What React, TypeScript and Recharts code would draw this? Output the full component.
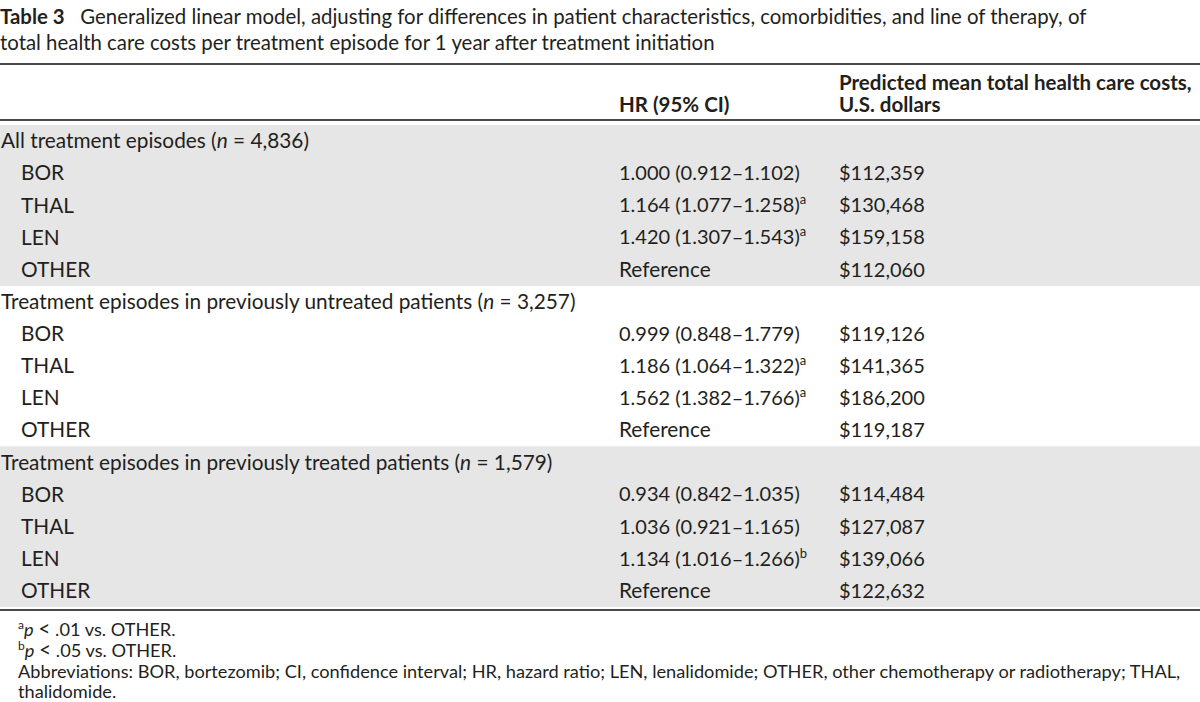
import React from 'react'
import { BarChart, Bar, XAxis, YAxis, Cell } from 'recharts'

// table content
const groupLabels = [
  'All treatment episodes',
  'Treatment episodes in previously untreated patients',
  'Treatment episodes in previously treated patients',
]
const groupN = ['4,836', '3,257', '1,579']
const shadedGroups = [true, false, true]
const drugs = ['BOR', 'THAL', 'LEN', 'OTHER']

const hrEstimate = [
  [1.0, 1.164, 1.42, null],
  [0.999, 1.186, 1.562, null],
  [0.934, 1.036, 1.134, null],
]
const hrLower = [
  [0.912, 1.077, 1.307, null],
  [0.848, 1.064, 1.382, null],
  [0.842, 0.921, 1.016, null],
]
const hrUpper = [
  [1.102, 1.258, 1.543, null],
  [1.779, 1.322, 1.766, null],
  [1.035, 1.165, 1.266, null],
]
const hrMark = [
  ['', 'a', 'a', ''],
  ['', 'a', 'a', ''],
  ['', '', 'b', ''],
]
const meanCost = [
  [112359, 130468, 159158, 112060],
  [119126, 141365, 186200, 119187],
  [114484, 127087, 139066, 122632],
]

const FONT = 'Lato, "Open Sans", sans-serif'
const INK = '#231f20'
const SHADE = '#e6e6e6'
const RULE = '#4a4a4a'
const LABEL_SIZE = 20.8
const NUM_SIZE = 20

const COL_LABEL = 1
const COL_ITEM = 21
const COL_HR = 619
const COL_COST = 839

type Row = {
  key: string
  group: number
  drug: number | null
  span: number
}

const rows: Row[] = []
groupLabels.forEach((_, g) => {
  rows.push({ key: `g${g}`, group: g, drug: null, span: 1 })
  drugs.forEach((_, d) => rows.push({ key: `g${g}-${d}`, group: g, drug: d, span: 1 }))
})

const fmtCost = (v: number) => '$' + v.toLocaleString('en-US')

// one table row: band background plus the three text cells
function RowShape(props: any) {
  const { x, y, width, height, payload, fill } = props
  const row: Row = payload
  const g = row.group
  const cy = y + height / 2
  const base = { y: cy, dy: '0.35em', fill: INK, fontFamily: FONT }
  let cells
  if (row.drug === null) {
    cells = (
      <text {...base} fontSize={LABEL_SIZE} x={COL_LABEL} textAnchor="start">
        {groupLabels[g]} (<tspan fontStyle="italic">n</tspan> = {groupN[g]})
      </text>
    )
  } else {
    const d = row.drug
    const est = hrEstimate[g][d]
    cells = (
      <g>
        <text {...base} fontSize={LABEL_SIZE} x={COL_ITEM} textAnchor="start">{drugs[d]}</text>
        <text {...base} fontSize={est === null ? LABEL_SIZE : NUM_SIZE} x={COL_HR} textAnchor="start">
          {est === null
            ? 'Reference'
            : `${est.toFixed(3)} (${hrLower[g][d]!.toFixed(3)}\u2013${hrUpper[g][d]!.toFixed(3)})`}
          {hrMark[g][d] ? (
            <tspan dy={-8} fontSize={13}>{hrMark[g][d]}</tspan>
          ) : null}
        </text>
        <text {...base} fontSize={NUM_SIZE} x={COL_COST} textAnchor="start">{fmtCost(meanCost[g][d])}</text>
      </g>
    )
  }
  return (
    <g>
      {fill !== 'none' && <rect x={x} y={y} width={width} height={height + 0.6} fill={fill} />}
      {cells}
    </g>
  )
}

const noteLine = { height: 20.8, lineHeight: '20.8px' }
const supStyle = { fontSize: 12, position: 'relative' as const, top: -7, lineHeight: 0 }
const ltStyle = { fontSize: 21, lineHeight: 0 }

export default function App() {
  return (
    <div
      style={{
        position: 'absolute',
        left: 0,
        top: 0,
        width: 1200,
        height: 702,
        background: '#fff',
        fontFamily: FONT,
        color: INK,
        overflow: 'hidden',
      }}
    >
      <div style={{ position: 'absolute', left: 0, top: 3, width: 1200, fontSize: 20.4, lineHeight: '26px', whiteSpace: 'nowrap' }}>
        <span style={{ fontWeight: 700 }}>Table 3</span>&nbsp;&nbsp; Generalized linear model, adjusting for
        differences in patient characteristics, comorbidities, and line of therapy, of
        <br />
        total health care costs per treatment episode for 1 year after treatment initiation
      </div>

      <div style={{ position: 'absolute', left: 0, top: 63, width: 1200, height: 2, background: RULE }} />
      <div style={{ position: 'absolute', left: COL_HR, top: 93, fontSize: 20.5, fontWeight: 700, lineHeight: '22px' }}>
        HR (95% CI)
      </div>
      <div style={{ position: 'absolute', left: COL_COST, top: 71, fontSize: 20.5, fontWeight: 700, lineHeight: '22px', whiteSpace: 'nowrap' }}>
        Predicted mean total health care costs,
        <br />
        U.S. dollars
      </div>
      <div style={{ position: 'absolute', left: 0, top: 119, width: 1200, height: 2, background: RULE }} />

      <div style={{ position: 'absolute', left: 0, top: 125 }}>
        <BarChart
          width={1200}
          height={482}
          data={rows}
          layout="vertical"
          margin={{ top: 0, right: 0, bottom: 0, left: 0 }}
          barCategoryGap={0}
        >
          <XAxis type="number" domain={[0, 1]} hide />
          <YAxis type="category" dataKey="key" hide />
          <Bar dataKey="span" isAnimationActive={false} shape={<RowShape />}>
            {rows.map(r => (
              <Cell key={r.key} fill={shadedGroups[r.group] ? SHADE : 'none'} />
            ))}
          </Bar>
        </BarChart>
      </div>

      <div style={{ position: 'absolute', left: 0, top: 609, width: 1200, height: 2, background: RULE }} />
      <div style={{ position: 'absolute', left: 18, top: 619, width: 1180, fontSize: 18.2, whiteSpace: 'nowrap' }}>
        <div style={noteLine}>
          <span style={supStyle}>a</span>
          <i>p</i> <span style={ltStyle}>&lt;</span> .01 vs. OTHER.
        </div>
        <div style={noteLine}>
          <span style={supStyle}>b</span>
          <i>p</i> <span style={ltStyle}>&lt;</span> .05 vs. OTHER.
        </div>
        <div style={noteLine}>
          Abbreviations: BOR, bortezomib; CI, confidence interval; HR, hazard ratio; LEN, lenalidomide; OTHER, other
          chemotherapy or radiotherapy; THAL,
        </div>
        <div style={noteLine}>thalidomide.</div>
      </div>
    </div>
  )
}
